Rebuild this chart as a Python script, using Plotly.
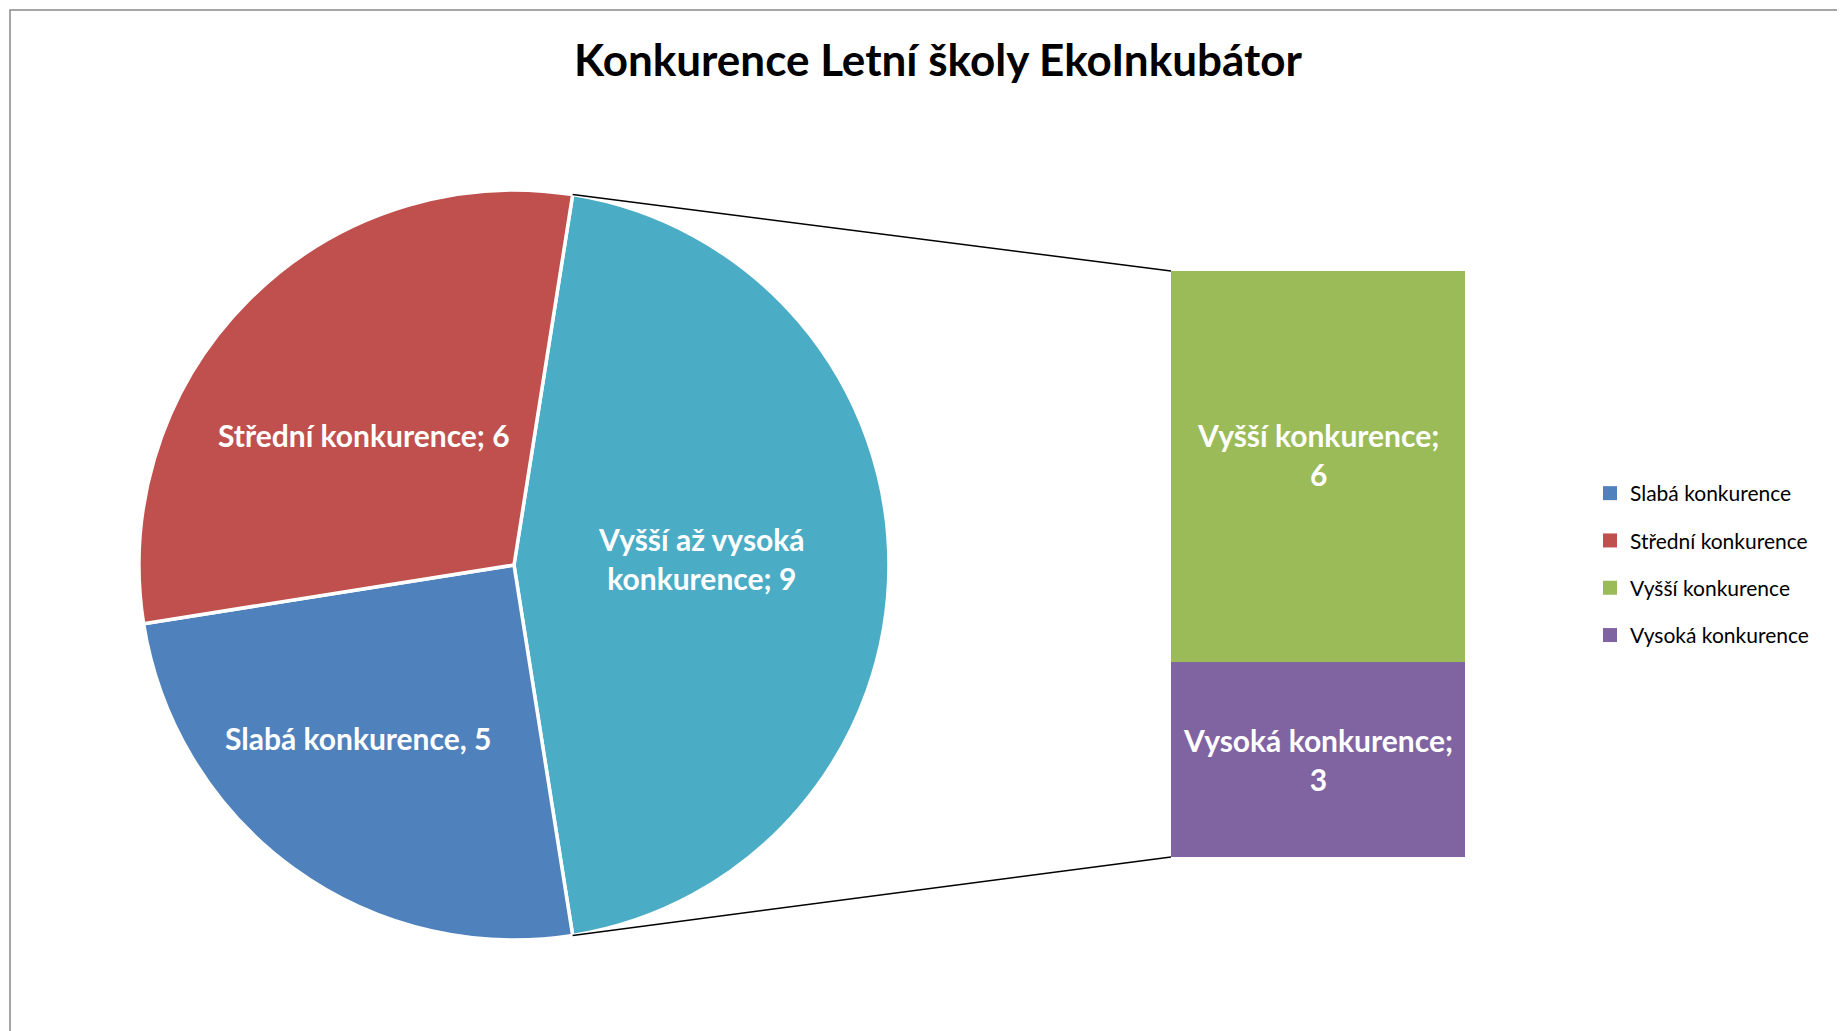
import math
import plotly.graph_objects as go

W, H = 1845, 1031
OFF = 8  # page body margin in the browser

# Pie (main) - clockwise order, split slice first
pie_labels = ["Vyšší až vysoká konkurence", "Slabá konkurence", "Střední konkurence"]
pie_values = [9, 5, 6]
pie_text = ["Vyšší až vysoká<br>konkurence; 9", "Slabá konkurence, 5", "Střední konkurence; 6"]
pie_colors = ["#4BACC6", "#4F81BD", "#C0504D"]

# Bar of pie (secondary) - bottom to top
bar_labels = ["Vysoká konkurence", "Vyšší konkurence"]
bar_values = [3, 6]
bar_text = ["Vysoká konkurence;<br>3", "Vyšší konkurence;<br>6"]
bar_colors = ["#8064A2", "#9BBB59"]

legend_order = ["Slabá konkurence", "Střední konkurence", "Vyšší konkurence", "Vysoká konkurence"]
legend_colors = {"Slabá konkurence": "#4F81BD", "Střední konkurence": "#C0504D",
                 "Vyšší konkurence": "#9BBB59", "Vysoká konkurence": "#8064A2"}

TITLE = "Konkurence Letní školy EkoInkubátor"
FONT = "Lato"

# geometry (pixels in the final page)
cx, cy, R = 514 - OFF, 565 - OFF, 375
bar_x0, bar_x1, bar_top, bar_bot = 1171 - OFF, 1465 - OFF, 271 - OFF, 857 - OFF
# label placement inside pie slices: (radius fraction, angle tweak in degrees)
pie_label_place = [(0.50, -2), (0.62, 6), (0.53, -4)]
bar_label_shift = [0, 12]

# split slice centred on 3 o'clock
rotation = 90 - 180 * pie_values[0] / sum(pie_values)

fig = go.Figure()

fig.add_trace(go.Pie(
    labels=pie_labels,
    values=pie_values,
    textinfo="none",
    marker=dict(colors=pie_colors, line=dict(color="white", width=3.5)),
    sort=False,
    direction="clockwise",
    rotation=rotation,
    domain=dict(x=[(cx - R) / W, (cx + R) / W], y=[1 - (cy + R) / H, 1 - (cy - R) / H]),
    showlegend=False,
    hoverinfo="label+value",
))

for lab, val, col in zip(bar_labels, bar_values, bar_colors):
    fig.add_trace(go.Bar(
        x=[0], y=[val], name=lab,
        marker=dict(color=col, line=dict(width=0)),
        width=1, showlegend=False,
    ))

# legend entries
for i, lab in enumerate(legend_order):
    fig.add_trace(go.Scatter(
        x=[None], y=[None], mode="markers", name=lab,
        marker=dict(symbol="square", size=14, color=legend_colors[lab]),
        legendgroup=lab, legendrank=i + 1,
    ))

label_font = dict(family=FONT, size=30, color="white", weight="bold")
annotations = []

# pie data labels at each slice's mid angle
total = sum(pie_values)
start = rotation
for val, txt, (rf, tweak) in zip(pie_values, pie_text, pie_label_place):
    span = 360 * val / total
    mid = math.radians(start + span / 2 + tweak)
    lx = cx + rf * R * math.sin(mid)
    ly = cy - rf * R * math.cos(mid)
    annotations.append(dict(text=txt, xref="paper", yref="paper", x=lx / W, y=1 - ly / H,
                            xanchor="center", yanchor="middle", showarrow=False,
                            font=label_font, align="center"))
    start += span

# bar data labels
base = 0
for val, txt, sh in zip(bar_values, bar_text, bar_label_shift):
    annotations.append(dict(text=txt, xref="x", yref="y", x=0, y=base + val / 2, yshift=sh,
                            xanchor="center", yanchor="middle", showarrow=False,
                            font=label_font, align="center"))
    base += val

# connector lines from the split slice to the bar
a0 = math.radians(rotation)
a1 = math.radians(rotation + 360 * pie_values[0] / total)
pts = [(cx + R * math.sin(a0), cy - R * math.cos(a0), bar_top),
       (cx + R * math.sin(a1), cy - R * math.cos(a1), bar_bot)]
shapes = []
for px_, py_, by in pts:
    shapes.append(dict(type="line", xref="paper", yref="paper",
                       x0=px_ / W, y0=1 - py_ / H, x1=bar_x0 / W, y1=1 - by / H,
                       line=dict(color="black", width=1.5)))
# chart frame
shapes.append(dict(type="rect", xref="paper", yref="paper",
                   x0=(10 - OFF) / W, y0=-0.05, x1=1.05, y1=1 - (10 - OFF) / H,
                   line=dict(color="#898989", width=1.5)))

fig.update_layout(
    width=W, height=H,
    margin=dict(l=0, r=0, t=0, b=0),
    paper_bgcolor="white", plot_bgcolor="white",
    barmode="stack",
    title=dict(text=TITLE, x=(938 - OFF) / W, xanchor="center", y=1 - (61 - OFF) / H, yanchor="middle",
               font=dict(family=FONT, size=44, color="black", weight="bold")),
    xaxis=dict(domain=[bar_x0 / W, bar_x1 / W], range=[-0.5, 0.5], visible=False, fixedrange=True),
    yaxis=dict(domain=[1 - bar_bot / H, 1 - bar_top / H], range=[0, sum(bar_values)],
               visible=False, fixedrange=True),
    legend=dict(x=(1590 - OFF) / W, xanchor="left", y=1 - (473 - OFF) / H, yanchor="top",
                font=dict(family=FONT, size=21, color="black"),
                tracegroupgap=17, bgcolor="rgba(0,0,0,0)"),
    annotations=annotations,
    shapes=shapes,
)

fig.write_html("out.html")
